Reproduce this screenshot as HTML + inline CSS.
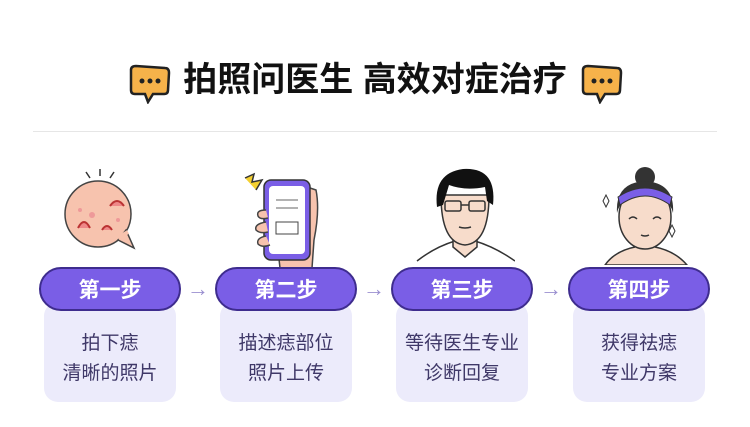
<!DOCTYPE html><html><head><meta charset="utf-8"><style>
body{margin:0;width:750px;height:427px;background:#fff;position:relative;overflow:hidden;font-family:"Liberation Sans","Noto Sans CJK SC",sans-serif}
.a{position:absolute}
.title{left:0;width:750px;top:58px;text-align:center;font-size:34px;font-weight:700;color:#111;line-height:44px}
.line{left:33px;width:684px;top:131px;height:1px;background:#e6e6e6}
.card{width:132px;height:100px;top:302px;background:#ecebfb;border-radius:14px}
.pill{width:138px;height:40px;top:267px;background:#7a5ee6;border:2px solid #3e2c8e;border-radius:22px;color:#fff;font-size:21px;font-weight:700;text-align:center;line-height:43px}
.txt{width:160px;top:329px;text-align:center;font-size:19px;line-height:30px;color:#3f3868}
.arr{top:276px;font-size:22px;color:#9a8fd0}
</style></head><body>
<div class="a title">拍照问医生 高效对症治疗</div>
<svg class="a" style="left:127px;top:64px" width="45" height="40" viewBox="0 0 45 40"><path d="M4 6 Q4 2 9 2 L38 4 Q42 4 42 9 L41 26 Q41 30 37 30 L26 30 L21 38 L18 30 L8 30 Q4 30 4 26Z" fill="#f6b24a" stroke="#222" stroke-width="2.5"/><circle cx="15" cy="17" r="2.5" fill="#222"/><circle cx="23" cy="17" r="2.5" fill="#222"/><circle cx="31" cy="17" r="2.5" fill="#222"/></svg>
<svg class="a" style="left:579px;top:64px" width="45" height="40" viewBox="0 0 45 40"><path d="M4 6 Q4 2 9 2 L38 4 Q42 4 42 9 L41 26 Q41 30 37 30 L26 30 L21 38 L18 30 L8 30 Q4 30 4 26Z" fill="#f6b24a" stroke="#222" stroke-width="2.5"/><circle cx="15" cy="17" r="2.5" fill="#222"/><circle cx="23" cy="17" r="2.5" fill="#222"/><circle cx="31" cy="17" r="2.5" fill="#222"/></svg>
<div class="a line"></div>
<svg class="a" style="left:60px;top:168px" width="80" height="85"><path d="M26 4 L30 10 M40 1 L40 8 M54 4 L50 10" stroke="#333" stroke-width="1.5"/><circle cx="38" cy="46" r="33" fill="#f7c3ae" stroke="#444" stroke-width="1.5"/><path d="M58 72 L74 80 L66 62Z" fill="#f7c3ae" stroke="#444" stroke-width="1.5"/><path d="M58 70 L68 64" stroke="#f7c3ae" stroke-width="4"/><path d="M18 60 Q24 48 30 60 M42 62 Q47 54 52 62 M50 38 Q57 28 64 38" stroke="#b33" stroke-width="2" fill="#e88"/><circle cx="32" cy="47" r="3" fill="#e99"/><circle cx="20" cy="42" r="2" fill="#e99"/><circle cx="58" cy="52" r="2" fill="#e99"/></svg>
<svg class="a" style="left:240px;top:170px" width="85" height="98"><path d="M5 8 L14 4 L12 12 L22 10 L16 20" stroke="#333" fill="#f4d030" stroke-width="1.5"/><path d="M38 80 L40 98 L72 98 L74 70 Q80 40 76 20 L70 18" fill="#f7c3ae" stroke="#444" stroke-width="1.5"/><rect x="24" y="10" width="46" height="80" rx="7" fill="#7a5ee6" stroke="#333" stroke-width="1.5"/><rect x="29" y="16" width="36" height="68" rx="4" fill="#fff"/><path d="M36 30 H58 M36 38 H58" stroke="#666"/><rect x="36" y="52" width="22" height="12" fill="#fff" stroke="#444"/><path d="M26 40 Q16 40 18 46 Q20 50 28 48 M26 52 Q14 54 16 60 Q20 64 28 62 M26 66 Q16 68 18 74 Q22 78 30 75" fill="#f7c3ae" stroke="#444" stroke-width="1.5"/></svg>
<svg class="a" style="left:415px;top:165px" width="100" height="100"><path d="M2 96 Q20 82 40 76 L60 76 Q80 82 100 96" fill="#fff" stroke="#333" stroke-width="1.5"/><path d="M38 70 L38 82 L50 92 L62 82 L62 70" fill="#f7dccb" stroke="#333" stroke-width="1.5"/><path d="M26 30 Q26 78 50 80 Q74 78 74 30Z" fill="#f7dccb" stroke="#333" stroke-width="1.5"/><path d="M22 42 Q18 8 48 4 Q82 2 78 40 L72 36 L70 22 Q50 26 34 20 L28 40Z" fill="#111"/><rect x="30" y="36" width="16" height="10" rx="2" fill="none" stroke="#333" stroke-width="1.5"/><rect x="54" y="36" width="16" height="10" rx="2" fill="none" stroke="#333" stroke-width="1.5"/><path d="M46 40 H54 M44 62 Q50 64 56 62" stroke="#333" stroke-width="1.5" fill="none"/></svg>
<svg class="a" style="left:595px;top:165px" width="100" height="100"><path d="M8 36 L11 30 L14 36 L11 42Z M74 66 L77 60 L80 66 L77 72Z" fill="#fff" stroke="#333"/><circle cx="50" cy="12" r="10" fill="#333"/><path d="M10 100 Q20 86 40 82 L60 82 Q80 86 92 100Z" fill="#f7dccb" stroke="#333" stroke-width="1.5"/><path d="M40 70 V86 H60 V70" fill="#f7dccb"/><ellipse cx="50" cy="52" rx="26" ry="32" fill="#f7dccb" stroke="#333" stroke-width="1.5"/><path d="M22 48 Q20 18 50 16 Q80 18 78 48 Q74 30 50 30 Q26 30 22 48Z" fill="#333"/><path d="M23 32 Q50 14 77 32 L75 40 Q50 22 25 40Z" fill="#7a5ee6" stroke="#333"/><path d="M34 54 Q38 50 42 54 M58 54 Q62 50 66 54 M46 70 Q50 72 54 70" stroke="#333" fill="none" stroke-width="1.5"/></svg>
<div class="a card" style="left:44px"></div><div class="a card" style="left:220px"></div><div class="a card" style="left:396px"></div><div class="a card" style="left:573px"></div>
<div class="a pill" style="left:39px">第一步</div><div class="a pill" style="left:215px">第二步</div><div class="a pill" style="left:391px">第三步</div><div class="a pill" style="left:568px">第四步</div>
<div class="a arr" style="left:187px">→</div><div class="a arr" style="left:363px">→</div><div class="a arr" style="left:540px">→</div>
<div class="a txt" style="left:30px">拍下痣<br>清晰的照片</div>
<div class="a txt" style="left:206px">描述痣部位<br>照片上传</div>
<div class="a txt" style="left:382px">等待医生专业<br>诊断回复</div>
<div class="a txt" style="left:559px">获得祛痣<br>专业方案</div>
</body></html>
